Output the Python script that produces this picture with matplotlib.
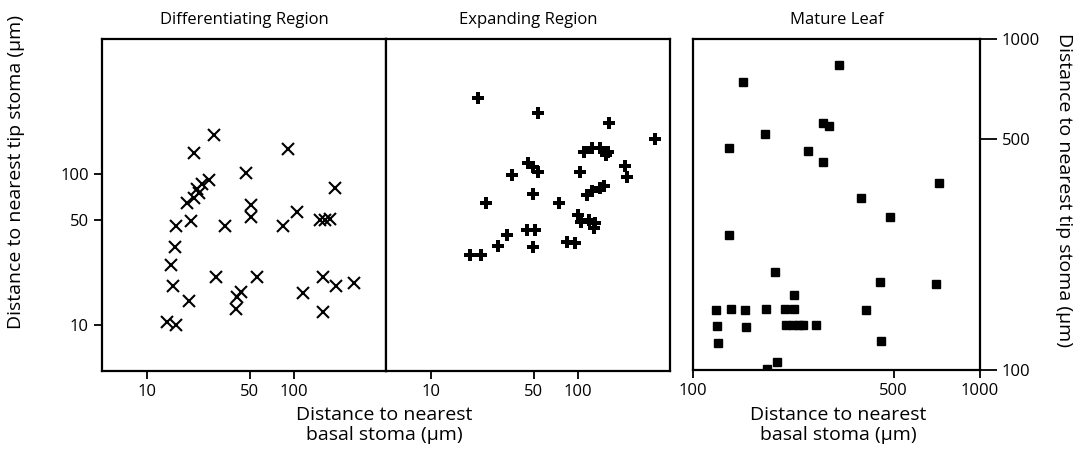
import matplotlib
matplotlib.use("Agg")
import matplotlib.pyplot as plt
from matplotlib.ticker import FixedLocator, FixedFormatter, NullLocator

plt.rcParams['font.family'] = ['Open Sans', 'DejaVu Sans']

# Differentiating region
diff_x = [28.8, 21.0, 91, 47.6, 26.6, 23.8, 22.0, 22.7, 21.0, 18.8, 191, 51.5, 51.5, 106,
          84.1, 151, 163, 177, 20.0, 15.8, 34.2, 15.6, 14.6, 29.7, 55.8, 158, 258, 15.1,
          19.4, 44.0, 41.3, 40.7, 115, 194, 158, 13.7, 15.8]
diff_y = [180, 137, 146, 101, 91, 86, 80, 75, 69.5, 64.4, 81, 62.5, 52.1, 56.2,
          45.5, 49.8, 49.8, 50.6, 49.1, 45.5, 45.5, 33.1, 25.2, 21.0, 21.0, 21.0, 19.2, 18.3,
          14.4, 16.7, 15.5, 12.9, 16.3, 18.1, 12.2, 10.6, 10.0]

# Expanding region
exp_x = [20.8, 53.7, 164, 336, 111, 126, 141, 160, 157, 45.9, 49.7, 53.7, 35.8, 103,
         211, 218, 49.7, 115, 126, 141, 152, 23.9, 74.5, 100, 106, 120, 132, 130,
         45.2, 51.1, 33.1, 28.8, 49.7, 84.3, 95.5, 18.4, 21.8]
exp_y = [316, 252, 217, 170, 140, 148, 148, 140, 133, 118, 111, 103, 98.5, 103,
         113, 95.5, 73.8, 72.8, 77.3, 80.9, 83.4, 64.4, 64.4, 53.7, 48.3, 49.8, 47.6, 44.2,
         42.8, 42.8, 39.7, 33.6, 33.1, 35.7, 35.2, 29.3, 29.3]

# Mature leaf
mat_x = [323, 149, 284, 298, 178, 133, 252, 284, 719, 385, 485, 133, 193, 449, 703,
         225, 120, 136, 152, 180, 209, 225, 401, 121, 153, 211, 223, 234, 241, 268,
         122, 452, 196, 181]
mat_y = [834, 741, 556, 545, 515, 467, 458, 424, 366, 332, 289, 255, 198, 184, 182,
         169, 152, 153, 152, 153, 153, 153, 152, 136, 135, 137, 137, 137, 137, 137,
         121, 122, 106, 101]

titles = ["Differentiating Region", "Expanding Region", "Mature Leaf"]
xlabel = "Distance to nearest\nbasal stoma (μm)"
ylabel = "Distance to nearest tip stoma (μm)"

fig = plt.figure(figsize=(10.8, 4.7), dpi=100)
W, H = 1080, 470

def ax_at(l, t, r, b):
    return fig.add_axes([l / W, 1 - b / H, (r - l) / W, (b - t) / H])

ax1 = ax_at(102, 39, 386, 371)
ax2 = ax_at(386, 39, 670, 371)
ax3 = ax_at(693, 39, 980, 370)

for ax in (ax1, ax2, ax3):
    ax.set_xscale('log')
    ax.set_yscale('log')
    for s in ax.spines.values():
        s.set_linewidth(1.6)
        s.set_color('black')
    ax.tick_params(which='both', direction='out', length=6, width=1.3,
                   labelsize=12, colors='black')
    ax.xaxis.set_minor_locator(NullLocator())
    ax.yaxis.set_minor_locator(NullLocator())

ax1.plot(diff_x, diff_y, linestyle='none', marker='x', markersize=9,
         markeredgewidth=1.5, color='black')
ax2.plot(exp_x, exp_y, linestyle='none', marker='P', markersize=9,
         markeredgewidth=0, color='black')
ax3.plot(mat_x, mat_y, linestyle='none', marker='s', markersize=5.5,
         color='black')

for ax in (ax1, ax2):
    ax.set_xlim(4.95, 425)
    ax.set_ylim(5.0, 780)
    ax.xaxis.set_major_locator(FixedLocator([10, 50, 100]))
    ax.xaxis.set_major_formatter(FixedFormatter(['10', '50', '100']))

ax1.yaxis.set_major_locator(FixedLocator([10, 50, 100]))
ax1.yaxis.set_major_formatter(FixedFormatter(['10', '50', '100']))
ax2.yaxis.set_major_locator(NullLocator())

ax3.set_xlim(100, 1000)
ax3.set_ylim(100, 1000)
ax3.xaxis.set_major_locator(FixedLocator([100, 500, 1000]))
ax3.xaxis.set_major_formatter(FixedFormatter(['100', '500', '1000']))
ax3.yaxis.set_major_locator(FixedLocator([100, 500, 1000]))
ax3.yaxis.set_major_formatter(FixedFormatter(['100', '500', '1000']))
ax3.yaxis.tick_right()
ax3.tick_params(axis='y', length=12)

for ax, t in zip((ax1, ax2, ax3), titles):
    ax.set_title(t, fontsize=12, pad=11)

fig.text(384 / W, 1 - 425 / H, xlabel, ha='center', va='center', fontsize=14,
         linespacing=1.2)
fig.text(838 / W, 1 - 425 / H, xlabel, ha='center', va='center', fontsize=14,
         linespacing=1.2)
fig.text(16 / W, 1 - 172 / H, ylabel, ha='center', va='center', rotation=90,
         fontsize=14)
fig.text(1064 / W, 1 - 190 / H, ylabel, ha='center', va='center', rotation=-90,
         fontsize=14)

fig.savefig('out.png', dpi=100, facecolor='white')
